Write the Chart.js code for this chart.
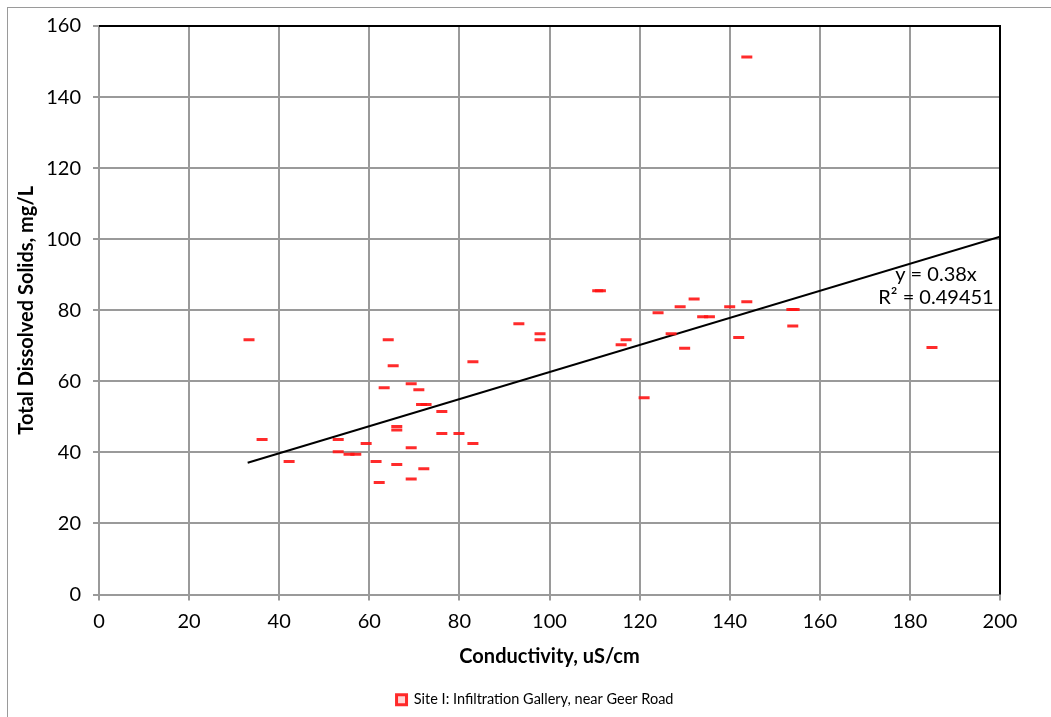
<!DOCTYPE html>
<html>
<head>
<meta charset="utf-8">
<script src="https://cdn.jsdelivr.net/npm/chart.js@4/dist/chart.umd.min.js"></script>
<style>
  html,body{margin:0;padding:0;background:#fff;}
  #wrap{width:1051px;height:717px;position:relative;}
</style>
</head>
<body>
<div id="wrap"><canvas id="c" width="1051" height="717"></canvas></div>
<script>
// data
const conductivity = [33.3,36.2,42.2,53.1,53.1,55.5,57,59.3,61.5,62.2,63.3,64.2,65.3,66.1,66.1,66.1,69.3,69.3,69.3,71,71.6,72.6,72.1,76.1,76.1,79.9,83,83,93.2,97.9,97.9,110.7,111.3,115.9,117,121,124.1,127,129,130,132.1,134,135.5,140,142,143.8,143.8,153.8,154.3,154,184.9];
const tds = [71.7,43.6,37.4,43.6,40.2,39.5,39.5,42.5,37.4,31.5,58.2,71.7,64.4,47.3,46.3,36.6,59.3,41.3,32.5,57.6,53.5,53.5,35.4,51.5,45.3,45.3,65.5,42.5,76.2,73.4,71.7,85.5,85.5,70.3,71.7,55.4,79.3,73.4,81,69.3,83.2,78.2,78.2,81,72.3,82.4,151.3,80.2,80.2,75.6,69.5];
const trendX = [33, 200];
const trendY = [37.1, 100.7];
const xTicks = [0,20,40,60,80,100,120,140,160,180,200];
const yTicks = [0,20,40,60,80,100,120,140,160];
const seriesName = 'Site I: Infiltration Gallery, near Geer Road';
const trendText = ['y = 0.38x', 'R\u00B2 = 0.49451'];

const FONT = 'Lato, "Open Sans", sans-serif';
const GRID = '#9a9a9a';

// frame, black top/right border, trendline label
const decor = {
  id:'decor',
  afterLayout(chart){
    // legend sits a bit right of centre in the original
    if (chart.legend){ chart.legend.left += 35; chart.legend.right += 35; }
  },
  afterDraw(chart){
    const {ctx, chartArea:a} = chart;
    ctx.save();
    ctx.strokeStyle = '#9a9a9a'; ctx.lineWidth = 1;
    ctx.strokeRect(7.5, 7.5, 1060, 720);
    ctx.strokeStyle = '#000'; ctx.lineWidth = 2;
    ctx.beginPath();
    ctx.moveTo(a.left, a.top); ctx.lineTo(a.right, a.top); ctx.lineTo(a.right, a.bottom);
    ctx.stroke();
    ctx.fillStyle = '#000'; ctx.font = '20px ' + FONT;
    ctx.textAlign = 'center'; ctx.textBaseline = 'middle';
    ctx.fillText(trendText[0], 936, 275);
    ctx.fillText(trendText[1], 936, 298);
    ctx.restore();
  }
};

new Chart(document.getElementById('c'), {
  type:'scatter',
  data:{
    datasets:[
      { label: seriesName,
        data: conductivity.map((x,i)=>({x, y:tds[i]})),
        showLine:false,
        pointStyle:'line', pointRadius:5.5, pointHoverRadius:5.5,
        pointBorderWidth:3, pointBorderColor:'rgba(255,20,20,0.9)',
        backgroundColor:'#ffd6d6', borderColor:'#ff0000', borderWidth:2 },
      { label:'trend',
        data: trendX.map((x,i)=>({x, y:trendY[i]})),
        showLine:true, pointRadius:0, borderColor:'#000', borderWidth:2 }
    ]
  },
  options:{
    responsive:false, animation:false,
    layout:{ padding:{ top:26, right:51, left:0, bottom:0 } },
    plugins:{
      tooltip:{enabled:false},
      legend:{
        position:'bottom',
        labels:{
          font:{family:FONT, size:14.5}, color:'#000',
          boxWidth:10, boxHeight:10, padding:10,
          filter:item=>item.datasetIndex===0
        }
      }
    },
    scales:{
      x:{
        type:'linear', min:0, max:200,
        afterBuildTicks:s=>{ s.ticks = xTicks.map(v=>({value:v})); },
        afterFit:s=>{ s.height = 88; },
        grid:{ color:GRID, lineWidth:2, tickLength:6 },
        border:{ color:GRID, width:2 },
        ticks:{ font:{family:FONT, size:20}, color:'#000', padding:9, maxRotation:0 },
        title:{ display:true, text:'Conductivity, uS/cm', color:'#000',
                font:{family:FONT, size:20, weight:'bold'}, padding:{top:0, bottom:14} }
      },
      y:{
        type:'linear', min:0, max:160,
        afterBuildTicks:s=>{ s.ticks = yTicks.map(v=>({value:v})); },
        afterFit:s=>{ s.width = 99; },
        grid:{ color:GRID, lineWidth:2, tickLength:6 },
        border:{ color:GRID, width:2 },
        ticks:{ font:{family:FONT, size:20}, color:'#000', padding:12 },
        title:{ display:true, text:'Total Dissolved Solids, mg/L', color:'#000',
                font:{family:FONT, size:20, weight:'bold'}, padding:{top:15, bottom:0} }
      }
    }
  },
  plugins:[decor]
});
</script>
</body>
</html>
